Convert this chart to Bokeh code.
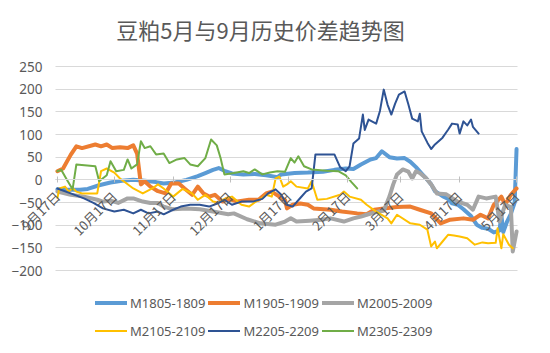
import math
from bokeh.plotting import figure
from bokeh.models import (Range1d, LinearAxis, FixedTicker, Grid, Legend, LegendItem, Label)
from bokeh.embed import file_html
from bokeh.resources import INLINE

title_text = "豆粕5月与9月历史价差趋势图"

# x = days counted from 9月17日
tick_days = [0, 30, 61, 91, 122, 153, 181, 212, 242]
tick_labels = ["9月17日", "10月17日", "11月17日", "12月17日", "1月17日",
               "2月17日", "3月17日", "4月17日", "5月17日"]
y_ticks = [-200, -150, -100, -50, 0, 50, 100, 150, 200, 250]

names = ["M1805-1809", "M1905-1909", "M2005-2009",
         "M2105-2109", "M2205-2209", "M2305-2309"]

m1805_day = [0, 5, 12, 16, 22, 28, 34, 40, 46, 52, 56, 62, 68, 74, 78, 82, 85, 88, 92,
             98, 104, 110, 116, 118, 125, 132, 140, 146, 152, 156, 160, 165, 168, 171,
             175, 179, 183, 186, 189, 192, 195, 197, 199, 203, 206, 208, 211, 214, 218,
             221, 224, 227, 230, 233, 234, 235, 237, 239, 241, 242]
m1805_val = [-21, -22, -22, -20, -12, -6, -2, 0, -2, -5, -8, -6, 0, 8, 15, 22, 26, 20, 14,
             12, 13, 10, 6, 12, 15, 16, 18, 22, 25, 24, 34, 45, 48, 63,
             50, 47, 48, 40, 28, 14, 0, -10, -25, -36, -42, -52, -55, -65, -80,
             -99, -106, -108, -116, -112, -78, -115, -92, -75, -50, 68]

m1905_day = [0, 3, 7, 10, 13, 20, 23, 26, 29, 33, 37, 40, 42, 44, 46, 49, 53, 57, 60, 64,
             67, 71, 74, 77, 80, 83, 87, 90, 95, 101, 106, 110, 113, 117, 120, 121, 124,
             128, 132, 135, 144, 150, 158, 163, 167, 172, 179, 186, 191, 197, 202, 207,
             214, 219, 223, 227, 230, 234, 236, 239, 242]
m1905_val = [19, 25, 55, 74, 70, 78, 74, 78, 70, 72, 70, 76, 58, -10, -3, -15, -25, -30, -8, -8,
             -19, -33, -15, -30, -37, -33, -48, -42, -48, -44, -44, -30, -26, -37, -45, -63, -55,
             -52, -55, -63, -66, -70, -74, -76, -66, -63, -60, -59, -66, -74, -96, -88,
             -85, -88, -77, -85, -55, -37, -55, -33, -19]

m2005_day = [0, 7, 14, 21, 24, 28, 32, 37, 40, 45, 49, 53, 56, 61, 68, 75, 82, 90, 93, 100,
             107, 115, 120, 123, 126, 133, 139, 144, 151, 156, 160, 163, 169, 172, 175, 177,
             179, 182, 185, 187, 189, 191, 194, 197, 200, 205, 211, 216, 219, 222, 226, 231,
             233, 236, 239, 240, 242]
m2005_val = [-26, -33, -37, -44, -48, -46, -51, -41, -41, -48, -51, -51, -59, -65, -63, -65, -70, -76, -74, -87,
             -96, -99, -92, -85, -92, -90, -88, -85, -92, -85, -81, -77, -70, -68, -37, -10,
             12, 23, 18, 3, 19, 15, 5, -10, -30, -32, -48, -55, -66, -37, -41, -37,
             -92, -55, -60, -158, -114]

m2105_day = [0, 1, 4, 6, 8, 10, 13, 21, 23, 26, 30, 33, 40, 45, 50, 53, 56, 61, 66, 71, 74,
             78, 82, 85, 89, 92, 97, 101, 104, 108, 110, 113, 115, 117, 119, 121, 123, 126,
             132, 134, 137, 142, 149, 151, 154, 160, 163, 168, 174, 176, 179, 186, 191, 195,
             197, 199, 200, 203, 206, 209, 212, 216, 220, 224, 227, 231, 232, 234, 235, 238, 240]
m2105_val = [-40, -19, -15, -26, -18, -26, -30, -30, 19, 25, 16, 3, -19, -30, -19, -10, -19, -37, -20, -30, -44,
             -33, -48, -50, -40, -37, -55, -59, -50, -40, -33, -37, 3, 7, -15, -10, -3, -15,
             -19, -3, -44, -42, -33, -26, -37, -44, -55, -70, -85, -96, -77, -96, -99, -110,
             -147, -136, -151, -136, -121, -123, -125, -129, -143, -138, -140, -139, -107, -151, -120, -143, -151]

m2205_day = [0, 7, 14, 19, 24, 30, 35, 40, 44, 48, 53, 56, 61, 65, 70, 75, 80, 85, 88, 92,
             97, 103, 108, 111, 115, 118, 121, 124, 128, 131, 134, 136, 146, 149, 152, 154,
             156, 159, 161, 162, 164, 168, 170, 172, 174, 176, 178, 180, 183, 185, 187, 190,
             191, 192, 195, 197, 199, 203, 206, 208, 211, 212, 214, 216, 218, 219, 222]
m2205_val = [-19, -30, -41, -51, -63, -70, -66, -74, -66, -74, -70, -76, -66, -59, -55, -55, -59, -51, -44, -55,
             -48, -48, -42, -30, -21, -33, -55, -59, -40, -26, -19, 56, 56, 28, 19, 30,
             80, 91, 144, 110, 133, 124, 152, 199, 166, 144, 168, 188, 195, 166, 135, 129,
             146, 107, 82, 68, 78, 93, 111, 124, 122, 102, 129, 120, 133, 117, 102]

m2305_day = [0, 2, 5, 8, 10, 20, 22, 26, 28, 31, 35, 37, 39, 42, 44, 46, 49, 52, 56, 59, 63,
             67, 70, 74, 78, 81, 84, 86, 88, 93, 98, 101, 104, 108, 112, 116, 120, 123, 125,
             127, 130, 134, 142, 148, 152, 155, 158]
m2305_val = [19, 22, 0, -21, 34, 30, -3, 10, 41, 19, 22, 45, 25, 34, 85, 70, 74, 56, 58, 37, 45,
             48, 34, 30, 48, 89, 76, 48, 12, 15, 19, 15, 23, 12, 16, 19, 18, 48, 38,
             52, 30, 23, 20, 19, 10, -5, -19]

series_days = [m1805_day, m1905_day, m2005_day, m2105_day, m2205_day, m2305_day]
series_vals = [m1805_val, m1905_val, m2005_val, m2105_val, m2205_val, m2305_val]
colors = ["#5B9BD5", "#ED7D31", "#A5A5A5", "#FFC000", "#2E5394", "#70AD47"]
widths = [4, 4, 4, 2, 2, 2]

TXT = "#595959"
CJK = "Noto Sans CJK SC"

# canvas layout (pixels): plot area spans x 55..517, y 66..270
W, H = 550, 353
PL, PR, PT, PB = 55, 517, 66, 270
X0, X1 = -1.0, 242.5                 # day range of the plot area
Y0, Y1 = min(y_ticks), max(y_ticks)  # value range of the plot area
kx = (PR - PL) / (X1 - X0)
ky = (PB - PT) / (Y1 - Y0)
x_range = Range1d(X0 - PL / kx, X1 + (W - PR) / kx)
y_range = Range1d(Y0 - (H - PB) / ky, Y1 + PT / ky)

p = figure(width=W, height=H, output_backend="svg", toolbar_location=None,
           x_range=x_range, y_range=y_range,
           x_axis_location=None, y_axis_location=None,
           min_border=0, min_border_left=0, min_border_right=0,
           min_border_top=0, min_border_bottom=0)
p.outline_line_color = None
p.background_fill_color = "white"
p.border_fill_color = "white"
p.xgrid.visible = False
p.ygrid.visible = False

# horizontal gridlines limited to the plot area
grid = Grid(dimension=1, ticker=FixedTicker(ticks=y_ticks),
            grid_line_color="#D9D9D9", grid_line_width=1)
if "cross_bounds" in Grid.properties():
    grid.cross_bounds = (X0, X1)
    p.add_layout(grid)
else:
    p.segment(x0=[X0] * len(y_ticks), x1=[X1] * len(y_ticks), y0=y_ticks, y1=y_ticks,
              line_color="#D9D9D9", line_width=1)

ya = LinearAxis(fixed_location=X0, ticker=FixedTicker(ticks=y_ticks), bounds=(Y0, Y1))
ya.axis_line_color = None
ya.major_tick_line_color = None
ya.minor_tick_line_color = None
ya.major_tick_in = 0
ya.major_tick_out = 0
ya.major_label_standoff = 13
ya.major_label_text_font = "Noto Sans"
ya.major_label_text_font_size = "13.5px"
ya.major_label_text_color = TXT
p.add_layout(ya, "left")

xa = LinearAxis(fixed_location=0, ticker=FixedTicker(ticks=tick_days), bounds=(X0, X1),
                major_label_overrides={d: l for d, l in zip(tick_days, tick_labels)})
xa.axis_line_color = "#D9D9D9"
xa.major_tick_line_color = "#BFBFBF"
xa.major_tick_in = 3
xa.major_tick_out = 3
xa.minor_tick_line_color = None
xa.major_label_orientation = math.pi / 4
xa.major_label_standoff = 11
xa.major_label_text_font = CJK
xa.major_label_text_font_size = "13px"
xa.major_label_text_color = TXT
p.add_layout(xa, "below")

items = []
for name, d, v, c, w in zip(names, series_days, series_vals, colors, widths):
    r = p.line(d, v, line_color=c, line_width=w, line_join="round", line_cap="round")
    items.append(LegendItem(label=name, renderers=[r]))

legend = Legend(items=items, orientation="horizontal", ncols=3,
                location=(95, 10), glyph_width=32, glyph_height=25, label_height=20,
                label_standoff=3, spacing=3, padding=0, margin=0,
                border_line_color=None, background_fill_alpha=0,
                label_text_font="Noto Sans", label_text_font_size="13px",
                label_text_color=TXT)
p.add_layout(legend)

# chart title, centred at pixel (260, 28)
title = Label(x=x_range.start + 260 / kx, y=y_range.end - 28 / ky, text=title_text,
              text_align="center", text_baseline="middle",
              text_font=CJK, text_font_size="22px", text_color=TXT)
p.add_layout(title)

open("out.html", "w").write(file_html(p, INLINE))
